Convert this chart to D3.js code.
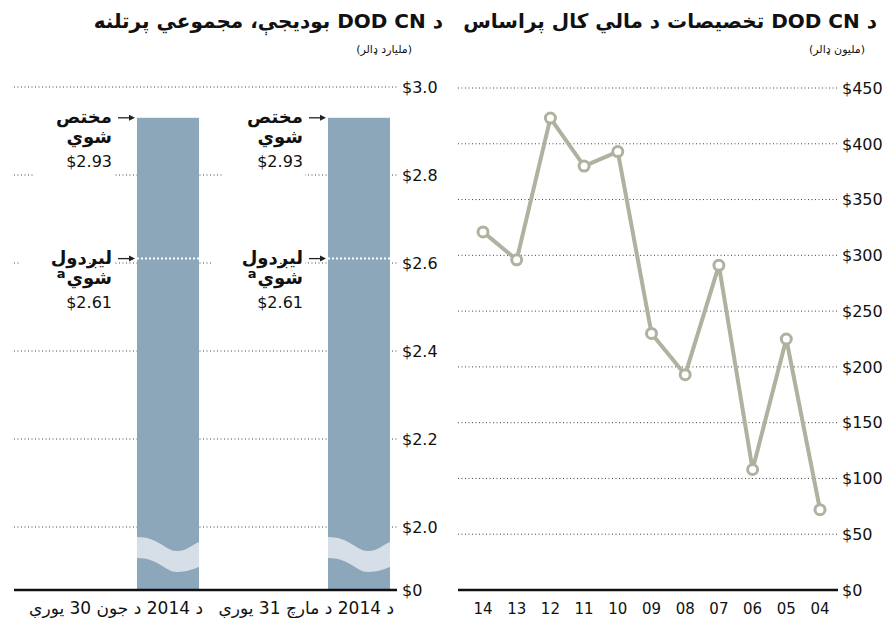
<!DOCTYPE html>
<html>
<head>
<meta charset="utf-8">
<script src="https://cdn.jsdelivr.net/npm/d3@7"></script>
<style>
  body { margin: 0; background: #fff; }
  svg text { font-family: "DejaVu Sans", sans-serif; fill: #111; }
</style>
</head>
<body>
<div id="chart"></div>
<script>
(function () {
  "use strict";

  // left panel: totals
  const barCategories = ["د 2014 د جون 30 يورې", "د 2014 د مارچ 31 يورې"];
  const allocated = [2.93, 2.93];
  const transferred = [2.61, 2.61];
  const barTicks = [0, 2.0, 2.2, 2.4, 2.6, 2.8, 3.0];
  const barTickLabels = ["$0", "$2.0", "$2.2", "$2.4", "$2.6", "$2.8", "$3.0"];

  // right panel: allocations per fiscal year
  const years = ["14", "13", "12", "11", "10", "09", "08", "07", "06", "05", "04"];
  const allocations = [321, 296, 423, 380, 393, 230, 193, 291, 108, 225, 72];
  const lineTicks = [0, 50, 100, 150, 200, 250, 300, 350, 400, 450];

  const leftTitle = "د DOD CN بوديجې، مجموعي پرتلنه";
  const leftUnit = "(مليارد ډالر)";
  const rightTitle = "د DOD CN تخصيصات د مالي کال پراساس";
  const rightUnit = "(مليون ډالر)";

  const width = 888, height = 618;
  const svg = d3.select("#chart").append("svg")
    .attr("width", width).attr("height", height);

  // right-to-left text, right edge put at x
  function rtlText(g, str, x, y, size, weight) {
    const t = g.append("text")
      .attr("direction", "rtl")
      .attr("x", 0).attr("y", y)
      .style("font-size", size + "px")
      .style("font-weight", weight || "normal")
      .text(str);
    const b = t.node().getBBox();
    t.attr("x", x - (b.x + b.width));
    return t;
  }

  // ---------- left panel ----------
  const yL = d3.scaleLinear().domain([0, 2.0, 3.0]).range([590, 527, 87]);
  const xL = d3.scalePoint().domain(barCategories).range([168, 359]);
  const barW = 62;

  const gl = svg.append("g");

  gl.selectAll("line.grid")
    .data(barTicks.filter((d) => d > 0))
    .join("line")
    .attr("x1", 14).attr("x2", 397)
    .attr("y1", (d) => yL(d)).attr("y2", (d) => yL(d))
    .attr("stroke", "#444").attr("stroke-width", 1)
    .attr("stroke-dasharray", "1,2.5");

  gl.selectAll("text.tick")
    .data(barTicks)
    .join("text")
    .attr("x", 402).attr("y", (d) => yL(d)).attr("dy", "0.36em")
    .style("font-size", "16px")
    .text((d, i) => barTickLabels[i]);

  // knock-outs behind the annotation text
  barCategories.forEach((c) => {
    const x0 = xL(c) - barW / 2;
    gl.append("rect").attr("x", x0 - 104).attr("y", 100)
      .attr("width", 81).attr("height", 82).attr("fill", "#fff");
    gl.append("rect").attr("x", x0 - 117).attr("y", 240)
      .attr("width", 94).attr("height", 75).attr("fill", "#fff");
  });

  gl.selectAll("rect.bar")
    .data(barCategories)
    .join("rect")
    .attr("x", (d) => xL(d) - barW / 2)
    .attr("y", (d, i) => yL(allocated[i]))
    .attr("width", barW)
    .attr("height", (d, i) => yL(0) - yL(allocated[i]))
    .attr("fill", "#8ca6ba");

  gl.selectAll("line.transfer")
    .data(barCategories)
    .join("line")
    .attr("x1", (d) => xL(d) - barW / 2).attr("x2", (d) => xL(d) + barW / 2)
    .attr("y1", (d, i) => yL(transferred[i])).attr("y2", (d, i) => yL(transferred[i]))
    .attr("stroke", "#fff").attr("stroke-width", 2)
    .attr("stroke-dasharray", "2,2");

  // axis break wave
  gl.selectAll("path.wave")
    .data(barCategories)
    .join("path")
    .attr("d", (d) => {
      const x0 = xL(d) - barW / 2, x1 = x0 + barW;
      const t = 537, b = 558;
      return `M${x0},${t} C${x0 + 22},${t} ${x0 + 28},${t + 14} ${x0 + 40},${t + 14}` +
        ` C${x0 + 50},${t + 14} ${x0 + 56},${t + 7} ${x1},${t + 5}` +
        ` L${x1},${b + 9} C${x0 + 56},${b + 11} ${x0 + 50},${b + 14} ${x0 + 40},${b + 14}` +
        ` C${x0 + 28},${b + 14} ${x0 + 22},${b} ${x0},${b} Z`;
    })
    .attr("fill", "#d6dfe7");

  gl.append("line")
    .attr("x1", 14).attr("x2", 397)
    .attr("y1", yL(0)).attr("y2", yL(0))
    .attr("stroke", "#111").attr("stroke-width", 2.5);

  barCategories.forEach((c) => {
    rtlText(gl, c, xL(c) + barW / 2 + 4, 614, 17);
  });

  // annotations with arrows
  barCategories.forEach((c, i) => {
    const x0 = xL(c) - barW / 2;
    const tx = x0 - 25;
    const notes = [
      { v: allocated[i], l1: "مختص", sup: false },
      { v: transferred[i], l1: "ليږدول", sup: true }
    ];
    notes.forEach((n) => {
      const y = yL(n.v);
      gl.append("line")
        .attr("x1", x0 - 19).attr("x2", x0 - 4)
        .attr("y1", y).attr("y2", y)
        .attr("stroke", "#222").attr("stroke-width", 1.3);
      gl.append("path")
        .attr("d", `M${x0 - 2},${y} L${x0 - 8},${y - 3} L${x0 - 8},${y + 3} Z`)
        .attr("fill", "#222");
      rtlText(gl, n.l1, tx, y + 5, 18, "bold");
      const t2 = rtlText(gl, "شوي", tx, y + 25, 18, "bold");
      if (n.sup) {
        const w = t2.node().getBBox().width;
        gl.append("text")
          .attr("x", tx - w - 1).attr("y", y + 19)
          .attr("text-anchor", "end")
          .style("font-size", "13px").style("font-weight", "bold")
          .text("a");
      }
      gl.append("text")
        .attr("x", tx).attr("y", y + 49)
        .attr("text-anchor", "end")
        .style("font-size", "16px")
        .text("$" + n.v.toFixed(2));
    });
  });

  rtlText(gl, leftTitle, 443, 28, 20, "bold");
  rtlText(gl, leftUnit, 412, 53, 11);

  // ---------- right panel ----------
  const xR = d3.scalePoint().domain(years).range([483, 820]);
  const yR = d3.scaleLinear().domain([0, 450]).range([590, 88]);

  const gr = svg.append("g");

  gr.selectAll("line.grid")
    .data(lineTicks.filter((d) => d > 0))
    .join("line")
    .attr("x1", 458).attr("x2", 838)
    .attr("y1", (d) => yR(d)).attr("y2", (d) => yR(d))
    .attr("stroke", "#444").attr("stroke-width", 1)
    .attr("stroke-dasharray", "1,2.5");

  gr.selectAll("text.tick")
    .data(lineTicks)
    .join("text")
    .attr("x", 842).attr("y", (d) => yR(d)).attr("dy", "0.36em")
    .style("font-size", "16px")
    .text((d) => "$" + d);

  gr.append("line")
    .attr("x1", 458).attr("x2", 838)
    .attr("y1", yR(0)).attr("y2", yR(0))
    .attr("stroke", "#111").attr("stroke-width", 2.5);

  gr.selectAll("text.year")
    .data(years)
    .join("text")
    .attr("x", (d) => xR(d)).attr("y", 614)
    .attr("text-anchor", "middle")
    .style("font-size", "15px")
    .text((d) => d);

  const line = d3.line()
    .x((d, i) => xR(years[i]))
    .y((d) => yR(d));

  gr.append("path")
    .datum(allocations)
    .attr("d", line)
    .attr("fill", "none")
    .attr("stroke", "#afb29f")
    .attr("stroke-width", 4)
    .attr("stroke-linejoin", "round");

  gr.selectAll("circle")
    .data(allocations)
    .join("circle")
    .attr("cx", (d, i) => xR(years[i]))
    .attr("cy", (d) => yR(d))
    .attr("r", 5)
    .attr("fill", "#fff")
    .attr("stroke", "#afb29f")
    .attr("stroke-width", 3);

  rtlText(gr, rightTitle, 877, 28, 20, "bold");
  rtlText(gr, rightUnit, 865, 53, 11);
})();
</script>
</body>
</html>
